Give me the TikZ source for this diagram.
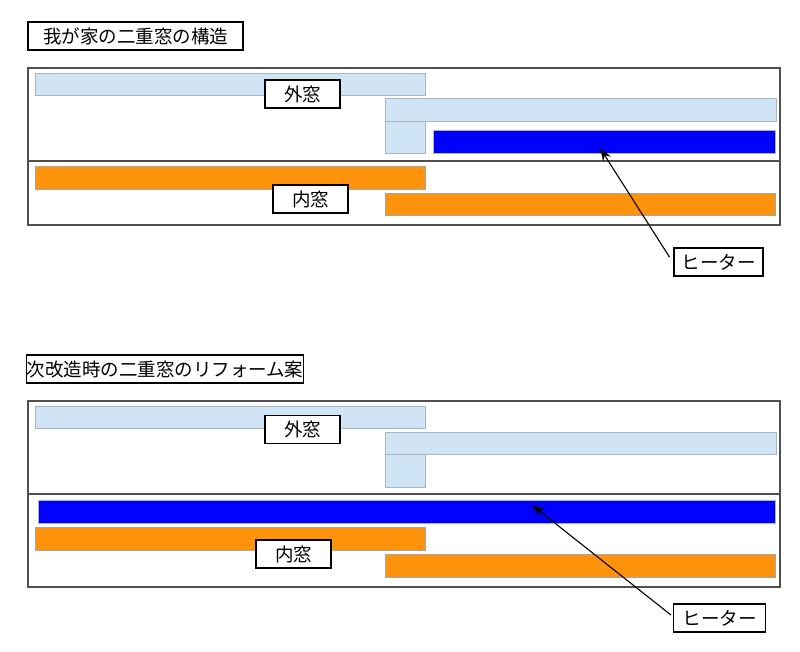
\documentclass[tikz,border=0pt]{standalone}
\usepackage{fontspec}
\setmainfont{Noto Sans CJK JP}
\usetikzlibrary{arrows.meta}
\definecolor{lblue}{HTML}{CFE5F5}
\definecolor{lbord}{HTML}{A8B4BE}
\definecolor{hblue}{HTML}{0000FF}
\definecolor{worange}{HTML}{FF940C}
\definecolor{frm}{HTML}{505050}
\tikzset{
  glass/.style={draw=lbord, fill=lblue, line width=0.8pt},
  heat/.style={draw=lbord, fill=hblue, line width=0.8pt},
  inner/.style={draw=gray!70, fill=worange, line width=0.8pt},
  frame/.style={draw=frm, line width=1.1pt},
  tbox/.style={draw=black, fill=white, line width=1.1pt, inner sep=0pt, font=\fontsize{18.5}{20}\selectfont},
  lbox/.style={draw=black, fill=white, line width=1.1pt, inner sep=0pt, minimum height=28pt, font=\fontsize{18.5}{20}\selectfont},
  callout/.style={draw=black, line width=1.1pt, -{Stealth[length=13pt,width=9pt]}}
}
\begin{document}
\begin{tikzpicture}[x=1pt,y=-1pt]
\useasboundingbox (0,0) rectangle (800,652);
% ---------- top ----------
\node[tbox, minimum width=215pt, minimum height=28pt] (t1) at (135.5,36) {我が家の二重窓の構造};
\draw[frame] (28,68) rectangle (780,225);
\draw[frame] (28,161) -- (780,161);
\draw[glass] (35,73) rectangle (425,95);
\draw[glass] (385,98) rectangle (776,121);
\draw[glass] (385,121) rectangle (425.5,153);
\draw[heat] (433,130) rectangle (775,153);
\draw[inner] (35,166) rectangle (425,189);
\draw[inner] (385,193) rectangle (775,215);
\node[lbox, minimum width=75pt] (o1) at (302.5,94) {外窓};
\node[lbox, minimum width=75pt] (i1) at (310.5,199) {内窓};
\node[lbox, minimum width=89pt] (h1) at (718.5,262) {ヒーター};
\coordinate (p1) at (600,148);
\draw[callout] ([yshift=5pt,xshift=-4pt]h1.west) -- (p1);
% ---------- bottom ----------
\node[tbox, minimum width=274pt, minimum height=28pt] (t2) at (165,369) {次改造時の二重窓のリフォーム案};
\draw[frame] (28,401) rectangle (780,587);
\draw[frame] (28,494) -- (780,494);
\draw[glass] (35,406) rectangle (425,428);
\draw[glass] (385,432) rectangle (776,454);
\draw[glass] (385,454) rectangle (425.5,487);
\draw[heat] (38,500) rectangle (775,523);
\draw[inner] (35,527) rectangle (425,550);
\draw[inner] (385,554) rectangle (775,577);
\node[lbox, minimum width=75pt] (o2) at (302.5,429.5) {外窓};
\node[lbox, minimum width=75pt] (i2) at (293.5,554) {内窓};
\node[lbox, minimum width=92pt] (h2) at (719.5,618) {ヒーター};
\coordinate (p2) at (532,505);
\draw[callout] ([yshift=3pt,xshift=-2pt]h2.west) -- (p2);
\end{tikzpicture}
\end{document}
